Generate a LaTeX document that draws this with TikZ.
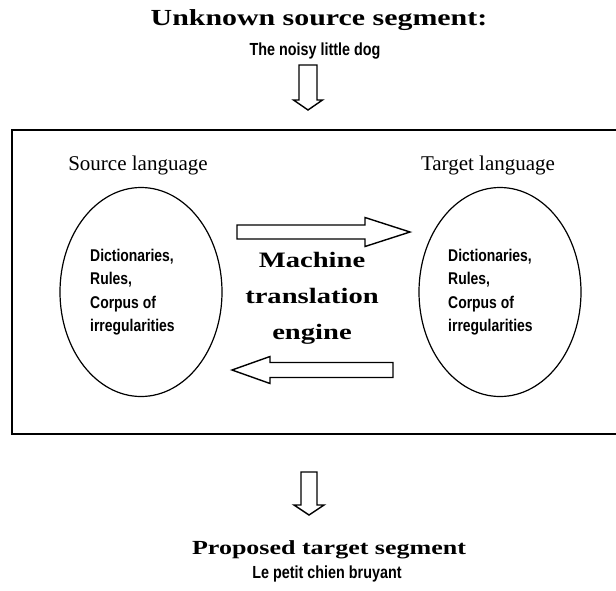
\documentclass[tikz,border=0pt]{standalone}
\usepackage{fontspec}
\setmainfont{Liberation Serif}
\newfontfamily\headfont[FakeStretch=1.3]{Liberation Serif}
\newfontfamily\notefont[FakeStretch=0.82]{Liberation Sans}
\usetikzlibrary{calc,shapes.geometric}

% hollow block arrow: from, to, shaft half width, head half width, head length
\newcommand\hollowarrow[5]{%
  \path ($(#2)!#5!(#1)$) coordinate (neck);
  \draw[blockline] ($(#1)!#3!90:(#2)$) -- ($(neck)!#3!90:(#2)$)
    -- ($(neck)!#4!90:(#2)$) -- (#2) -- ($(neck)!#4!-90:(#2)$)
    -- ($(neck)!#3!-90:(#2)$) -- ($(#1)!#3!-90:(#2)$) -- cycle;}

\begin{document}
\begin{tikzpicture}[x=1pt,y=-1pt,
  heading/.style={font=\headfont\bfseries\fontsize{#1}{27}\selectfont},
  heading/.default=23,
  engine/.style={font=\headfont\bfseries\fontsize{22}{36}\selectfont,align=center},
  sample/.style={font=\notefont\bfseries\fontsize{17.5}{20}\selectfont},
  side/.style={font=\fontsize{21}{24}\selectfont},
  pool/.style={draw,ellipse,line width=1.2pt,minimum width=162pt,minimum height=209pt,inner sep=0pt},
  lexicon/.style={font=\notefont\bfseries\fontsize{17}{23.3}\selectfont,align=left,anchor=west,inner sep=0pt},
  blockline/.style={line width=1.4pt,line join=miter}]
\useasboundingbox (0,0) rectangle (616,590);

\node[heading] (query) at (319,20) {Unknown source segment:};
\node[sample] (querytext) at (315,51) {The noisy little dog};

% engine frame, open on the right
\coordinate (frametl) at (12,130);
\coordinate (framebl) at (12,434);
\draw[line width=2pt] (616,130) -- (frametl) -- (framebl) -- (616,434);

\node[side] (srclabel) at (138,165) {Source language};
\node[side] (tgtlabel) at (488,165) {Target language};
\node[pool] (srcpool) at (141,292) {};
\node[pool] (tgtpool) at (500,292) {};
\node[lexicon] (srclex) at (90,292) {Dictionaries,\\Rules,\\Corpus of\\irregularities};
\node[lexicon] (tgtlex) at (448,292) {Dictionaries,\\Rules,\\Corpus of\\irregularities};
\node[engine] (mt) at (312,298) {Machine\\translation\\engine};

\node[heading=20] (proposal) at (329,550) {Proposed target segment};
\node[sample] (proposaltext) at (327,574) {Le petit chien bruyant};

\coordinate (instart) at (308,65);   \coordinate (inend) at (308,110);
\coordinate (fwdstart) at (237,232); \coordinate (fwdend) at (410,232);
\coordinate (bwdstart) at (393,370); \coordinate (bwdend) at (232,370);
\coordinate (outstart) at (309,472); \coordinate (outend) at (309,515);
\foreach \a/\b/\s/\h/\l in {instart/inend/9pt/14.5pt/10pt,
    fwdstart/fwdend/7pt/14.5pt/45pt,
    bwdstart/bwdend/7.5pt/13.5pt/38pt,
    outstart/outend/8pt/15pt/10pt}
  \hollowarrow{\a}{\b}{\s}{\h}{\l};
\end{tikzpicture}
\end{document}
